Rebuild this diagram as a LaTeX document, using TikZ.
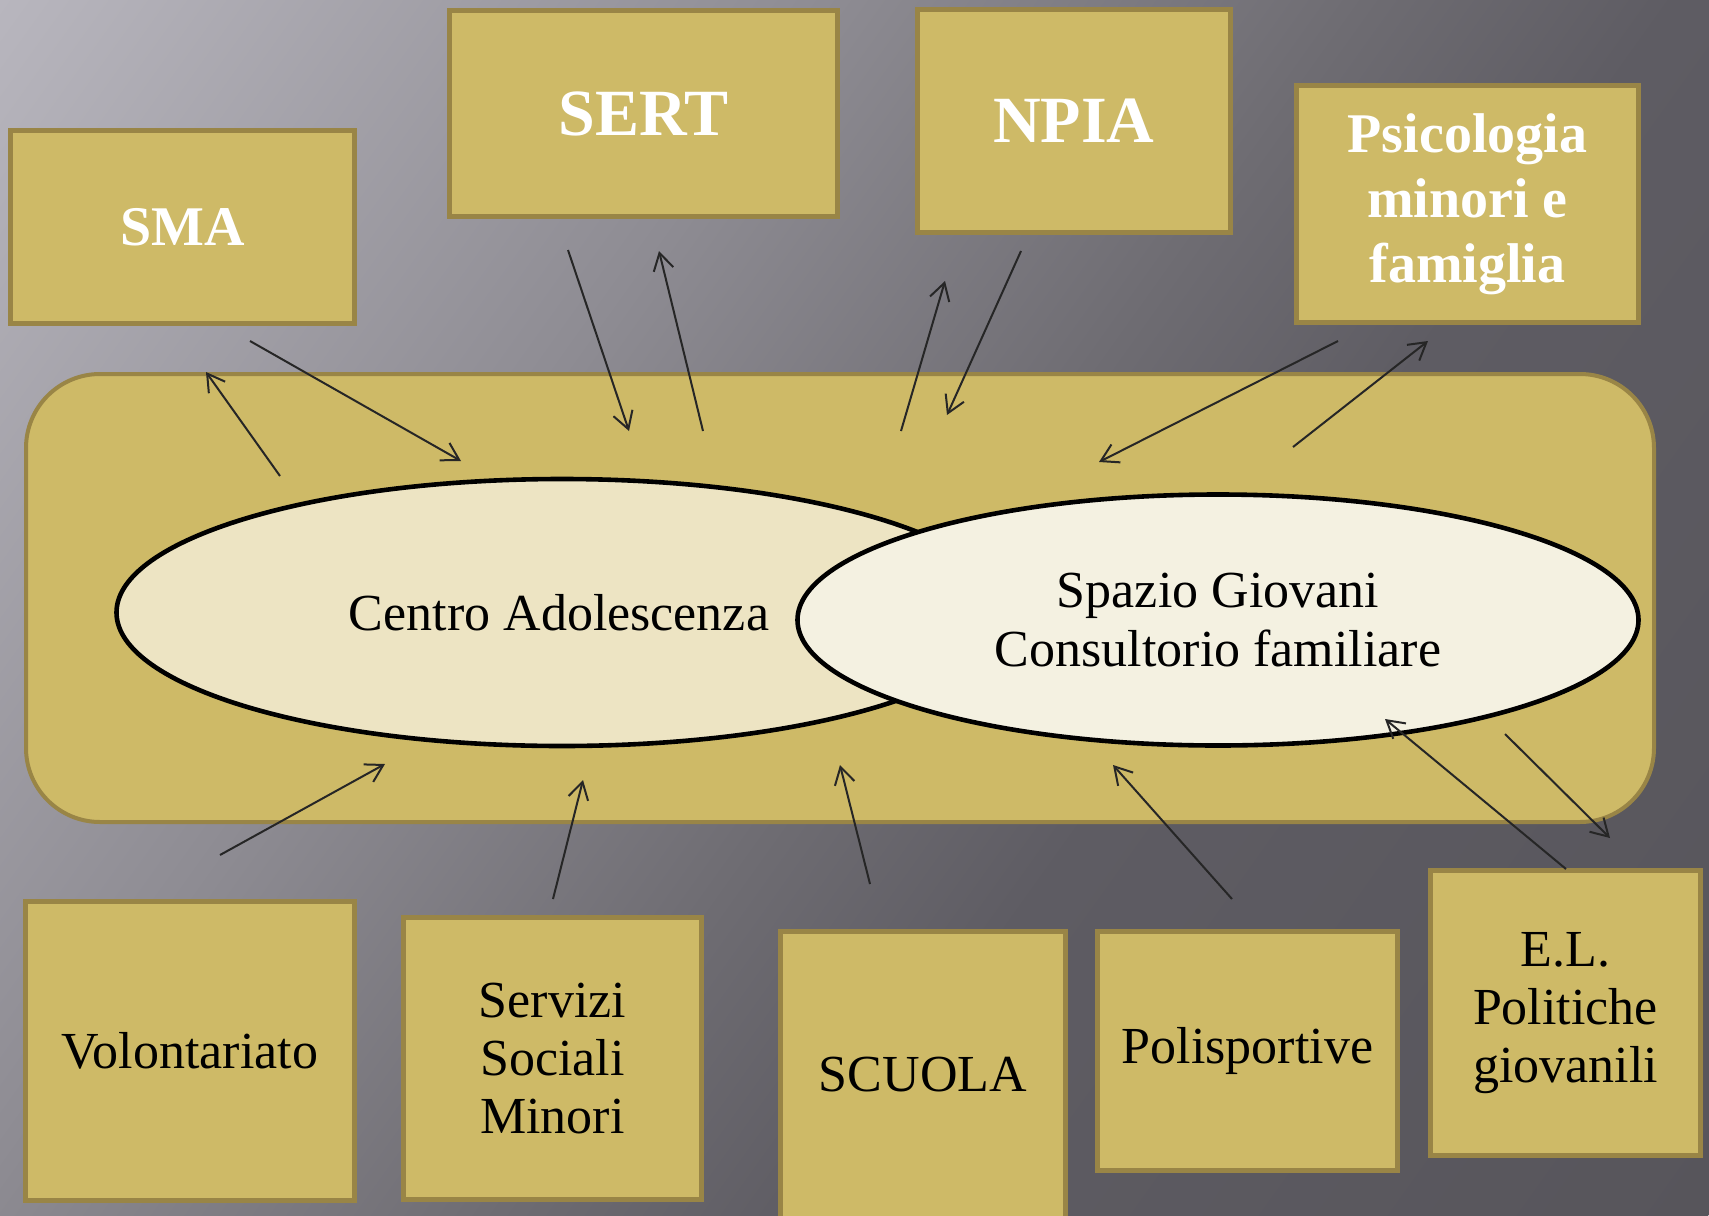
\documentclass[tikz,border=0pt]{standalone}
\usepackage{fontspec}
\setmainfont{Liberation Serif}
\usetikzlibrary{shapes.geometric,arrows.meta}
\definecolor{boxfill}{HTML}{CEBA67}
\definecolor{boxedge}{HTML}{998546}
\definecolor{ellA}{HTML}{EDE4C3}
\definecolor{ellB}{HTML}{F4F1E1}
\definecolor{linec}{HTML}{262626}
\definecolor{bgzero}{HTML}{B8B6BE}
\definecolor{bgone}{HTML}{8E8C93}
\definecolor{bgtwo}{HTML}{6E6C72}
\definecolor{bgthree}{HTML}{5E5C63}
\definecolor{bgfour}{HTML}{57555B}
\pgfdeclarehorizontalshading{bgshade}{100bp}{color(0bp)=(bgzero); color(25bp)=(bgzero); color(41bp)=(bgone); color(51.5bp)=(bgtwo); color(57.5bp)=(bgthree); color(75bp)=(bgfour); color(100bp)=(bgfour)}
\begin{document}
\begin{tikzpicture}[x=0.5pt,y=-0.5pt,
  boxbase/.style={draw=boxedge, fill=boxfill, line width=2.3pt, inner sep=0pt, align=center},
  topbox/.style={boxbase, text=white, font=\fontsize{33}{38}\selectfont\bfseries},
  smallbold/.style={boxbase, text=white, font=\fontsize{28}{32.5}\selectfont\bfseries},
  botbox/.style={boxbase, text=black, font=\fontsize{26}{29}\selectfont},
  framebox/.style={draw=boxedge, fill=boxfill, line width=2pt, rounded corners=37pt, inner sep=0pt},
  ellbase/.style={ellipse, draw=black, line width=2.3pt, inner sep=0pt, align=center, font=\fontsize{26}{29.5}\selectfont},
  link/.style={draw=linec, line width=1pt, -{Straight Barb[length=8.5pt,width=10pt,line width=1pt]}}
]
\useasboundingbox (0,0) rectangle (1709,1216);
\begin{scope}
\clip (0,0) rectangle (1709,1216);
\begin{scope}[transform canvas={rotate=-35.6}]
\shade[shading=bgshade] (0,-1500) rectangle (2097,1500);
\end{scope}
\end{scope}

% central frame
\node[framebox, minimum width=814pt, minimum height=224pt] (frame) at (840,598) {};

% ellipses
\node[ellbase, fill=ellA, minimum width=445.5pt, minimum height=133.5pt] (centro) at (562,612.5) {};
\node[font=\fontsize{26}{29.5}\selectfont] (centrotxt) at (559,613) {Centro Adolescenza};
\node[ellbase, fill=ellB, minimum width=420.5pt, minimum height=125.5pt] (spazio) at (1218,620) {Spazio Giovani\\Consultorio familiare};

% top boxes
\node[smallbold, minimum width=172pt, minimum height=96.5pt] (sma) at (182.5,227) {SMA};
\node[topbox, minimum width=194pt, minimum height=103pt] (sert) at (643.5,113.5) {SERT};
\node[topbox, minimum width=156.5pt, minimum height=111.5pt] (npia) at (1074,121) {NPIA};
\node[smallbold, minimum width=171pt, minimum height=118.5pt] (psico) at (1467.5,204) {Psicologia\\minori e\\famiglia};

% bottom boxes
\node[botbox, minimum width=164.5pt, minimum height=149.5pt] (volo) at (190,1051) {Volontariato};
\node[botbox, minimum width=149pt, minimum height=141pt] (serv) at (552.5,1058.5) {Servizi\\Sociali\\Minori};
\node[botbox, minimum width=142.5pt, minimum height=143.5pt] (scuola) at (923,1075) {SCUOLA};
\node[botbox, minimum width=150pt, minimum height=119.5pt] (poli) at (1247.5,1051) {Polisportive};
\node[botbox, minimum width=135pt, minimum height=142.5pt] (el) at (1565.5,1013) {E.L.\\Politiche\\giovanili};

% connector end points
\coordinate (smaOutS) at (280,476);  \coordinate (smaOutE) at (206,372);
\coordinate (smaInS) at (250,341);   \coordinate (smaInE) at (461,461);
\coordinate (sertInS) at (568,250);  \coordinate (sertInE) at (629,431);
\coordinate (sertOutS) at (703,431); \coordinate (sertOutE) at (659,251);
\coordinate (npiaOutS) at (901,431); \coordinate (npiaOutE) at (945,281);
\coordinate (npiaInS) at (1021,251); \coordinate (npiaInE) at (947,415);
\coordinate (psiInS) at (1338,341);  \coordinate (psiInE) at (1099,462);
\coordinate (psiOutS) at (1293,447); \coordinate (psiOutE) at (1428,341);
\coordinate (voloS) at (220,855);    \coordinate (voloE) at (385,764);
\coordinate (servS) at (553,899);    \coordinate (servE) at (583,780);
\coordinate (scuolaS) at (870,884);  \coordinate (scuolaE) at (840,765);
\coordinate (poliS) at (1232,899);   \coordinate (poliE) at (1113,765);
\coordinate (elOutS) at (1566,869);  \coordinate (elOutE) at (1385,719);
\coordinate (elInS) at (1505,734);   \coordinate (elInE) at (1610,838);

% connectors
\draw[link] (smaOutS) -- (smaOutE);
\draw[link] (smaInS) -- (smaInE);
\draw[link] (sertInS) -- (sertInE);
\draw[link] (sertOutS) -- (sertOutE);
\draw[link] (npiaOutS) -- (npiaOutE);
\draw[link] (npiaInS) -- (npiaInE);
\draw[link] (psiInS) -- (psiInE);
\draw[link] (psiOutS) -- (psiOutE);
\draw[link] (voloS) -- (voloE);
\draw[link] (servS) -- (servE);
\draw[link] (scuolaS) -- (scuolaE);
\draw[link] (poliS) -- (poliE);
\draw[link] (elOutS) -- (elOutE);
\draw[link] (elInS) -- (elInE);
\end{tikzpicture}
\end{document}
